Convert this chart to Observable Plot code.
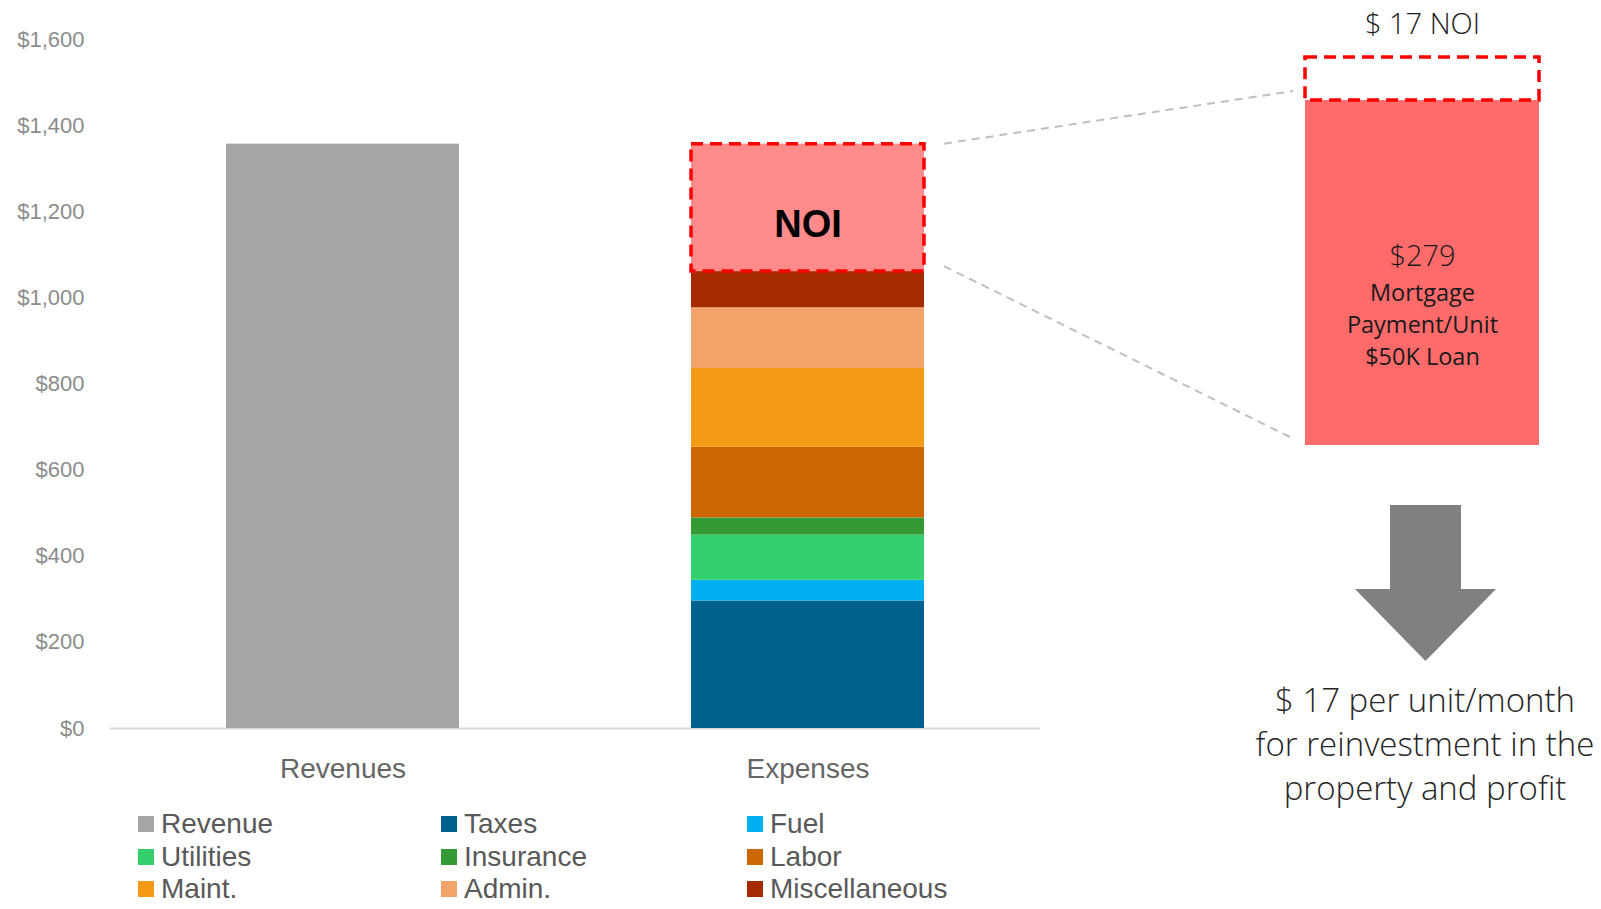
<!DOCTYPE html>
<html>
<head>
<meta charset="utf-8">
<script src="https://cdn.jsdelivr.net/npm/d3@7"></script>
<script src="https://cdn.jsdelivr.net/npm/@observablehq/plot@0.6"></script>
<style>
  html, body { margin: 0; padding: 0; background: #fff; }
  #wrap { position: relative; width: 1601px; height: 909px; overflow: hidden; }
  #main { position: absolute; left: 0; top: 0; }
  #right { position: absolute; left: 1240px; top: 0; }
  #overlay { position: absolute; left: 0; top: 0; pointer-events: none; }
  #legend { position: absolute; left: 138px; top: 808px; font-family: "Liberation Sans", Arial, sans-serif;
            font-size: 28px; color: #595959; display: grid; grid-template-columns: 303px 306px 260px; row-gap: 0px; }
  #legend .it { display: flex; align-items: center; height: 32.5px; white-space: nowrap; }
  #legend .sw { width: 16px; height: 16px; margin-right: 7px; flex: none; }
  #bottomText { position: absolute; left: 1205px; width: 440px; top: 678px; text-align: center;
            font-family: "Open Sans", sans-serif; font-weight: 300; font-size: 33px; line-height: 44px; color: #262626; }
</style>
</head>
<body>
<div id="wrap">
  <div id="main"></div>
  <div id="right"></div>
  <div id="legend"></div>
  <div id="bottomText"></div>
</div>
<script>
// ---- data ----
const categories = ["Revenues", "Expenses"];
const items = ["Revenue", "Taxes", "Fuel", "Utilities", "Insurance", "Labor", "Maint.", "Admin.", "Miscellaneous", "NOI"];
const itemCategory = ["Revenues", "Expenses", "Expenses", "Expenses", "Expenses", "Expenses", "Expenses", "Expenses", "Expenses", "Expenses"];
const values = [1357, 296, 48, 105, 40, 164, 183, 141, 84, 296];
const colors = ["#a6a6a6", "#02608f", "#00b0f0", "#34d06e", "#359a36", "#cc6600", "#f49a17", "#f4a36a", "#a52a00", "#ff8b8b"];
const yTicks = [0, 200, 400, 600, 800, 1000, 1200, 1400, 1600];
const legendItems = ["Revenue", "Taxes", "Fuel", "Utilities", "Insurance", "Labor", "Maint.", "Admin.", "Miscellaneous"];

const panelCategory = ["Loan"];
const panelItems = ["Mortgage", "NOI"];
const panelValues = [279, 17];
const panelColors = ["#ff6b6b", "#ffffff"];
const panelTitle = "$ 17 NOI";
const panelValueLabel = "$279";
const panelLines = "Mortgage\nPayment/Unit\n$50K Loan";
const bottomLines = ["$ 17 per unit/month", "for reinvestment in the", "property and profit"];

// ---- derived rows (stacking) ----
const totals = {};
const rows = items.map((item, i) => {
  const cat = itemCategory[i];
  const y1 = totals[cat] || 0;
  const y2 = y1 + values[i];
  totals[cat] = y2;
  return { cat, item, value: values[i], y1, y2 };
});
const noiRows = rows.filter(d => d.item === "NOI");

let pt = 0;
const panelRows = panelItems.map((item, i) => {
  const r = { cat: panelCategory[0], item, y1: pt, y2: pt + panelValues[i], fill: panelColors[i] };
  pt += panelValues[i];
  return r;
});

const font = "'Liberation Sans', Arial, sans-serif";

const main = Plot.plot({
  width: 1045, height: 790,
  marginLeft: 110, marginRight: 5, marginTop: 39, marginBottom: 62,
  style: { fontFamily: font, background: "transparent", overflow: "visible" },
  x: { domain: categories, paddingInner: 0.5, paddingOuter: 0.25, label: null },
  y: { domain: [0, 1600], label: null },
  color: { domain: items, range: colors },
  marks: [
    Plot.ruleY([0], { stroke: "#d9d9d9", strokeWidth: 2 }),
    Plot.barY(rows, { x: "cat", y1: "y1", y2: "y2", fill: "item" }),
    Plot.barY(noiRows, { x: "cat", y1: "y1", y2: "y2", fill: "none", stroke: "#ff0000", strokeWidth: 3.5, strokeDasharray: "12 7" }),
    Plot.text(noiRows, { x: "cat", y: d => d.y2 - (d.y2 - d.y1) * 0.63, text: d => d.item, fontSize: 38, fontWeight: "bold", fill: "#000" }),
    Plot.axisY({ ticks: yTicks, tickFormat: d => "$" + d3.format(",")(d), tickSize: 0, tickPadding: 26, fontSize: 22, fill: "#8c8c8c", label: null }),
    Plot.axisX({ tickSize: 0, tickPadding: 30, fontSize: 28, fill: "#666666", label: null })
  ]
});
document.getElementById("main").appendChild(main);

// Right panel: the small NOI slice is drawn enlarged above the mortgage amount (as in the reference)
const mortgageTop = panelValues[0];
const noiStretch = 2.05;
const stretch = v => v <= mortgageTop ? v : mortgageTop + (v - mortgageTop) * noiStretch;

const rfont = "'Open Sans', sans-serif";
const right = Plot.plot({
  width: 361, height: 460,
  marginLeft: 65, marginRight: 62, marginTop: 0, marginBottom: 0,
  style: { fontFamily: rfont, background: "transparent", overflow: "visible" },
  x: { domain: panelCategory, padding: 0, axis: null },
  y: { transform: stretch, domain: [0, stretch(pt)], range: [445, 57], axis: null },
  marks: [
    Plot.barY(panelRows.filter(d => d.item === "Mortgage"), { x: "cat", y1: "y1", y2: "y2", fill: "fill" }),
    Plot.barY(panelRows.filter(d => d.item === "NOI"), { x: "cat", y1: "y1", y2: "y2", fill: "none", stroke: "#ff0000", strokeWidth: 3.5, strokeDasharray: "12 7" }),
    Plot.text(panelRows.filter(d => d.item === "NOI"), { x: "cat", y: "y2", dy: -33, text: () => panelTitle, fontSize: 29, fontWeight: 300, fill: "#1a1a1a" }),
    Plot.text(panelRows.filter(d => d.item === "Mortgage"), { x: "cat", y: d => (d.y1 + d.y2) / 2, dy: -16, text: () => panelValueLabel, fontSize: 29, fontWeight: 300, fill: "#1a1a1a" }),
    Plot.text(panelRows.filter(d => d.item === "Mortgage"), { x: "cat", y: d => (d.y1 + d.y2) / 2, dy: 50, text: () => panelLines, fontSize: 23.5, lineHeight: 1.36, fontWeight: 400, fill: "#1a1a1a" })
  ]
});
document.getElementById("right").appendChild(right);

// ---- legend ----
const leg = document.getElementById("legend");
legendItems.forEach(name => {
  const c = colors[items.indexOf(name)];
  const el = document.createElement("div");
  el.className = "it";
  el.innerHTML = `<span class="sw" style="background:${c}"></span><span>${name}</span>`;
  leg.appendChild(el);
});

// ---- bottom text ----
document.getElementById("bottomText").innerHTML = bottomLines.map(s => `<div>${s}</div>`).join("");

// ---- overlay: connectors and arrow ----
const my = main.scale("y"), mx = main.scale("x");
const ry = right.scale("y"), rx = right.scale("x");
const noi = noiRows[0];
const barRight = mx.apply("Expenses") + mx.bandwidth;
const rLeft = 1240 + rx.apply(panelCategory[0]);
const rCenter = rLeft + rx.bandwidth / 2;

const svg = d3.select("#wrap").append("svg").attr("id", "overlay").attr("width", 1601).attr("height", 909);
const conn = [
  [barRight + 20, my.apply(noi.y2), rLeft - 12, ry.apply(stretch(mortgageTop)) - 9],
  [barRight + 20, my.apply(noi.y1) - 5, rLeft - 15, ry.apply(0) - 8]
];
svg.selectAll("line").data(conn).join("line")
  .attr("x1", d => d[0]).attr("y1", d => d[1]).attr("x2", d => d[2]).attr("y2", d => d[3])
  .attr("stroke", "#bfbfbf").attr("stroke-width", 2).attr("stroke-dasharray", "8 6");

const cx = rCenter + 3.5;
const arrow = d3.path();
arrow.moveTo(cx - 35.5, 505);
arrow.lineTo(cx + 35.5, 505);
arrow.lineTo(cx + 35.5, 589);
arrow.lineTo(cx + 70.5, 589);
arrow.lineTo(cx, 661);
arrow.lineTo(cx - 70.5, 589);
arrow.lineTo(cx - 35.5, 589);
arrow.closePath();
svg.append("path").attr("d", arrow.toString()).attr("fill", "#808080");
</script>
</body>
</html>
